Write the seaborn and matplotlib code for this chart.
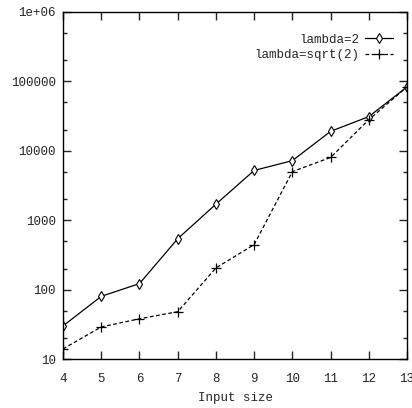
import numpy as np
import pandas as pd
import seaborn as sns
import matplotlib
matplotlib.use("Agg")
import matplotlib.pyplot as plt
from matplotlib.ticker import FixedLocator, NullFormatter

sizes = [4, 5, 6, 7, 8, 9, 10, 11, 12, 13]
lambda_2 = [30, 80, 122, 540, 1700, 5200, 7200, 19000, 31000, 83000]
lambda_sqrt2 = [14, 29, 38, 48, 205, 445, 5000, 8000, 28000, 83000]
y_ticks = [10, 100, 1000, 10000, 100000, 1000000]
y_labels = ["10", "100", "1000", "10000", "100000", "1e+06"]

sns.set_style("ticks")
plt.rcParams["font.family"] = ["Liberation Mono", "DejaVu Sans Mono"]

fig = plt.figure(figsize=(4.12, 4.08), dpi=100)
ax = fig.add_axes([0.153, 0.12, 0.835, 0.851])

df1 = pd.DataFrame({"x": sizes, "y": lambda_2})
df2 = pd.DataFrame({"x": sizes, "y": lambda_sqrt2})
sns.lineplot(data=df1, x="x", y="y", ax=ax, color="black", linewidth=0.9,
             marker="d", markersize=5.5, markerfacecolor="white",
             markeredgecolor="black", markeredgewidth=0.8, label="lambda=2")
sns.lineplot(data=df2, x="x", y="y", ax=ax, color="black", linewidth=0.9,
             linestyle=(0, (3, 2)), marker="+", markersize=6.5,
             markeredgecolor="black", markerfacecolor="black",
             markeredgewidth=0.9, label="lambda=sqrt(2)")

ax.set_yscale("log")
ax.set_xlim(4, 13)
ax.set_ylim(10, 1e6)
ax.set_xticks(sizes)
ax.set_xticklabels([str(s) for s in sizes])
ax.yaxis.set_major_locator(FixedLocator(y_ticks))
ax.set_yticklabels(y_labels)
minors = [m * 10 ** e for e in range(1, 6) for m in (2, 5)]
ax.yaxis.set_minor_locator(FixedLocator(minors))
ax.yaxis.set_minor_formatter(NullFormatter())
ax.set_xlabel("Input size", fontsize=9, labelpad=5)
ax.set_ylabel("")
ax.tick_params(which="major", direction="in", length=6, width=1,
               top=True, right=True, labelsize=9, pad=5)
ax.tick_params(axis="x", which="major", pad=10)
ax.tick_params(which="minor", direction="in", length=3, width=1,
               top=False, right=True)
ax.tick_params(axis="x", which="minor", bottom=False, top=False)
for s in ax.spines.values():
    s.set_linewidth(1.0)
    s.set_color("black")

leg = ax.legend(loc="upper right", bbox_to_anchor=(0.959, 0.937),
                frameon=False, markerfirst=False, borderpad=0,
                fontsize=9, handlelength=2.2, handletextpad=0.5,
                borderaxespad=0, labelspacing=0.3)

fig.savefig("out.png", dpi=100)
